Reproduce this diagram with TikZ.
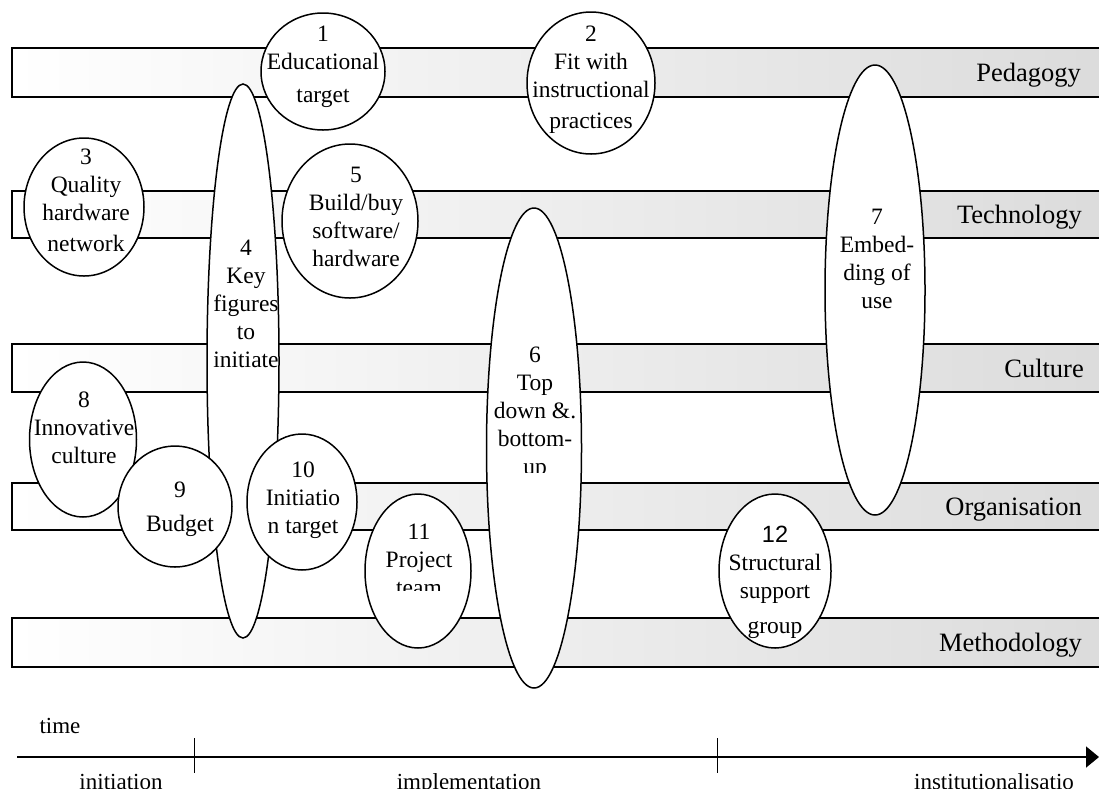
\documentclass[tikz,border=0pt]{standalone}
\usepackage{fontspec}
\setmainfont{Liberation Serif}
\newfontfamily\sansnum{Liberation Sans}
\usetikzlibrary{arrows.meta, shapes.geometric}

\tikzset{
  band/.style={draw, line width=1.5pt, left color=white, right color=black!14},
  bubble/.style={ellipse, draw, fill=white, line width=1.5pt, inner sep=0pt},
  bubtext/.style={anchor=north, align=center, inner sep=0pt, font=\fontsize{23.5}{28}\selectfont},
  bandlabel/.style={anchor=base east, inner sep=0pt, font=\fontsize{26.5}{30}\selectfont},
  phase/.style={anchor=base, inner sep=0pt, font=\fontsize{23}{27}\selectfont},
}

\begin{document}
\begin{tikzpicture}[x=1pt, y=-1pt]
    % ================= Canvas =================
    \useasboundingbox (0,0) rectangle (1099,788);

    % ================= Bands (one per domain) =================
    \draw[band] (12,48) rectangle (1112,97);
    \draw[band] (12,191) rectangle (1112,238);
    \draw[band] (12,344) rectangle (1112,392);
    \draw[band] (12,483) rectangle (1112,530);
    \draw[band] (12,618) rectangle (1112,667);

    \node[bandlabel] (pedagogy)     at (1081,81.5)  {Pedagogy};
    \node[bandlabel] (technology)   at (1082,223.5) {Technology};
    \node[bandlabel] (culture)      at (1084,377)   {Culture};
    \node[bandlabel] (organisation) at (1082,515.5) {Organisation};
    \node[bandlabel] (methodology)  at (1082,651.5) {Methodology};

    % ================= Factors (ellipses) =================
    \node[bubble, minimum width=124, minimum height=117] (f1) at (323,71.5) {};
    \node[bubble, minimum width=128, minimum height=142] (f2) at (591,83) {};
    \node[bubble, minimum width=120, minimum height=138] (f3) at (84,207) {};
    \node[bubble, minimum width=72,  minimum height=554] (f4) at (243,361) {};
    \node[bubble, minimum width=136, minimum height=154] (f5) at (350,221) {};
    \node[bubble, minimum width=95,  minimum height=480] (f6) at (534,448) {};
    \node[bubble, minimum width=100, minimum height=450] (f7) at (875,290) {};
    \node[bubble, minimum width=107, minimum height=155] (f8) at (83,439.5) {};
    \node[bubble, minimum width=114, minimum height=121] (f9) at (175,506.5) {};
    \node[bubble, minimum width=110, minimum height=136] (f10) at (302,502) {};
    \node[bubble, minimum width=106, minimum height=154] (f11) at (418,571) {};
    \node[bubble, minimum width=112, minimum height=154] (f12) at (775,571) {};

    % ================= Factor texts =================
    \node[bubtext] (t1) at (323,26)  {1\\Educational\\[5pt]target};
    \node[bubtext] (t2) at (591,26)  {2\\Fit with\\instructional\\[3pt]practices};
    \node[bubtext] (t3) at (86,149)  {3\\Quality\\hardware\\[3pt]network};
    \node[bubtext] (t4) at (246,240) {4\\Key\\figures\\to\\initiate};
    \node[bubtext] (t5) at (356,167) {5\\Build/buy\\software/\\hardware};
    \begin{scope}
        \clip (480,330) rectangle (590,472);
        \node[bubtext] (t6) at (535,347) {6\\Top\\down \&.\\bottom-\\up};
    \end{scope}
    \node[bubtext] (t7) at (877,209) {7\\Embed-\\ding of\\use};
    \node[bubtext] (t8) at (84,392)  {8\\Innovative\\culture};
    \node[bubtext] (t9) at (180,482) {9\\[6pt]Budget};
    \node[bubtext] (t10) at (303,462) {10\\Initiatio\\n target};
    \begin{scope}
        \clip (360,510) rectangle (480,590);
        \node[bubtext] (t11) at (419,524) {11\\Project\\team};
    \end{scope}
    \node[bubtext] (t12) at (775,526) {{\sansnum 12}\\Structural\\support\\[7pt]group};

    % ================= Time axis =================
    \coordinate (tstart) at (17,757);
    \coordinate (tend) at (1099,757);
    \draw[line width=1.6pt, -{Triangle[length=13pt, width=21pt]}] (tstart) -- (tend);
    \draw[line width=1pt] (194,738) -- (194,773);
    \draw[line width=1pt] (717,738) -- (717,773);

    \node[phase] (time) at (60,733) {time};
    \node[phase] (initiation) at (121,789) {initiation};
    \node[phase] (implementation) at (469,789) {implementation};
    \node[phase] (institution) at (994,789) {institutionalisatio};
\end{tikzpicture}
\end{document}
